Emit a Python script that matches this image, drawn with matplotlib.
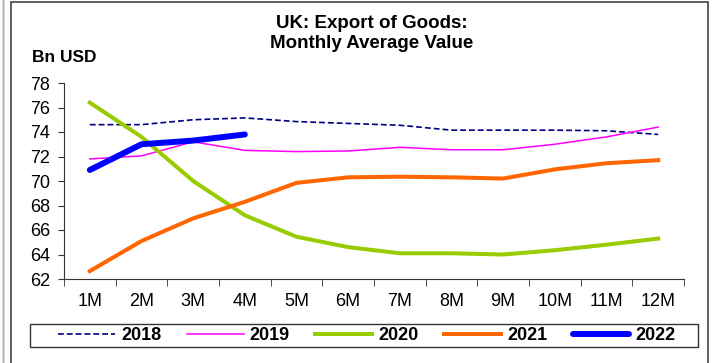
import matplotlib
matplotlib.use("Agg")
import matplotlib.pyplot as plt
from matplotlib.patches import Rectangle

plt.rcParams['font.family'] = ['Liberation Sans', 'DejaVu Sans']

###
### Data
###
months = ['1M', '2M', '3M', '4M', '5M', '6M', '7M', '8M', '9M', '10M', '11M', '12M']
v2018 = [74.6, 74.6, 75.0, 75.15, 74.85, 74.7, 74.55, 74.15, 74.15, 74.15, 74.1, 73.8]
v2019 = [71.8, 72.05, 73.2, 72.5, 72.4, 72.45, 72.75, 72.55, 72.55, 73.0, 73.6, 74.4]
v2020 = [76.4, 73.6, 70.0, 67.2, 65.45, 64.6, 64.1, 64.1, 64.0, 64.35, 64.8, 65.3]
v2021 = [62.65, 65.1, 66.95, 68.3, 69.85, 70.3, 70.35, 70.3, 70.2, 70.95, 71.45, 71.7]
v2022 = [70.9, 73.0, 73.3, 73.8]
yticks = [62, 64, 66, 68, 70, 72, 74, 76, 78]

W, H = 712, 363
fig = plt.figure(figsize=(W/100, H/100), dpi=100)
ax = fig.add_axes([64/W, 1-279/H, (684-64)/W, (279-83)/H])

x = list(range(len(months)))
ax.plot(x, v2018, color='#000080', lw=1.2, ls=(0, (3.5, 1.8)), label='2018')
ax.plot(x, v2019, color='#ff00ff', lw=1.1, label='2019')
ax.plot(x, v2020, color='#99cc00', lw=2.9, label='2020')
ax.plot(x, v2021, color='#ff6600', lw=2.9, label='2021')
ax.plot(x[:len(v2022)], v2022, color='#0000ff', lw=4.3, solid_capstyle='round', label='2022')

ax.set_xlim(-0.5, 11.5)
ax.set_ylim(62, 78)
ax.set_yticks(yticks)
ax.set_xticks(x)
ax.set_xticklabels(months)
ax.set_xticks([i - 0.5 for i in range(13)], minor=True)
ax.tick_params(axis='x', which='major', length=0, pad=10, labelsize=13)
ax.tick_params(axis='x', which='minor', length=5, direction='out', color='#333333')
ax.tick_params(axis='y', length=4, direction='out', pad=6, labelsize=13, color='#333333')
for s in ['top', 'right']:
    ax.spines[s].set_visible(False)
for s in ['left', 'bottom']:
    ax.spines[s].set_color('#333333')

fig.text(372/W, 1-24/H, 'UK: Export of Goods:', ha='center', va='center',
         fontsize=13.5, fontweight='bold')
fig.text(372/W, 1-44/H, 'Monthly Average Value', ha='center', va='center',
         fontsize=13.5, fontweight='bold')
fig.text(32/W, 1-57/H, 'Bn USD', ha='left', va='center', fontsize=12.5, fontweight='bold')

# legend entries, frame drawn separately as a wider box
leg = fig.legend(loc='center', bbox_to_anchor=(367/W, 1-335.5/H), ncol=5,
                 prop={'weight': 'bold', 'size': 13}, handlelength=3.15,
                 handletextpad=0.35, columnspacing=1.4, frameon=False,
                 borderpad=0.15)
fig.patches.append(Rectangle((30/W, 1-347/H), (698-30)/W, 23/H,
                             transform=fig.transFigure, fill=False,
                             edgecolor='#333333', lw=1.0))

# outer chart frame
fig.patches.append(Rectangle((11/W, -0.05), (708-11)/W, 1.05 - 1.5/H,
                             transform=fig.transFigure, fill=False,
                             edgecolor='#444444', lw=1.2))
fig.patches.append(Rectangle((3/W, -0.05), 0, 1.1, transform=fig.transFigure,
                             fill=False, edgecolor='#aaaaaa', lw=1.0))

fig.savefig('out.png', dpi=100)
